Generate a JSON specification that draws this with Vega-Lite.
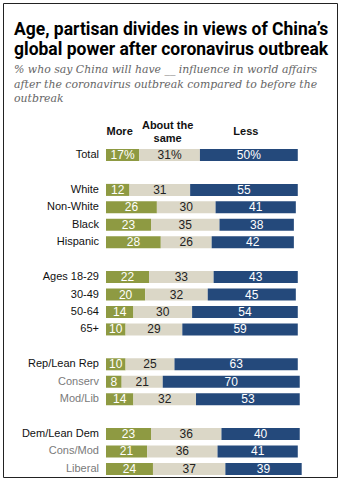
{
  "$schema": "https://vega.github.io/schema/vega-lite/v6.json",
  "width": 334,
  "height": 474,
  "autosize": {"type": "none"},
  "padding": {"left": 3, "top": 3, "right": 6, "bottom": 6},
  "background": "white",
  "config": {
    "view": {"stroke": "#222", "strokeWidth": 1},
    "text": {"font": "Liberation Sans"}
  },
  "title": {
    "text": ["Age, partisan divides in views of China’s", "global power after coronavirus outbreak"],
    "subtitle": ["% who say China will have __ influence in world affairs", "after the coronavirus outbreak compared to before the", "outbreak"],
    "anchor": "start",
    "frame": "group",
    "orient": "top",
    "offset": -101,
    "dx": 11,
    "font": "'Liberation Sans Narrow', Roboto, sans-serif",
    "fontSize": 17.5,
    "fontWeight": "bold",
    "lineHeight": 19.3,
    "color": "#000",
    "subtitleFont": "DejaVu Serif",
    "subtitleFontStyle": "italic",
    "subtitleFontSize": 10.9,
    "subtitleColor": "#666",
    "subtitleLineHeight": 14.5,
    "subtitlePadding": 6
  },
  "datasets": {
    "bars": [
      {"g": "Total", "c": "More", "v": 17, "t": "17%"},
      {"g": "Total", "c": "About the same", "v": 31, "t": "31%"},
      {"g": "Total", "c": "Less", "v": 50, "t": "50%"},
      {"g": "White", "c": "More", "v": 12, "t": "12"},
      {"g": "White", "c": "About the same", "v": 31, "t": "31"},
      {"g": "White", "c": "Less", "v": 55, "t": "55"},
      {"g": "Non-White", "c": "More", "v": 26, "t": "26"},
      {"g": "Non-White", "c": "About the same", "v": 30, "t": "30"},
      {"g": "Non-White", "c": "Less", "v": 41, "t": "41"},
      {"g": "Black", "c": "More", "v": 23, "t": "23"},
      {"g": "Black", "c": "About the same", "v": 35, "t": "35"},
      {"g": "Black", "c": "Less", "v": 38, "t": "38"},
      {"g": "Hispanic", "c": "More", "v": 28, "t": "28"},
      {"g": "Hispanic", "c": "About the same", "v": 26, "t": "26"},
      {"g": "Hispanic", "c": "Less", "v": 42, "t": "42"},
      {"g": "Ages 18-29", "c": "More", "v": 22, "t": "22"},
      {"g": "Ages 18-29", "c": "About the same", "v": 33, "t": "33"},
      {"g": "Ages 18-29", "c": "Less", "v": 43, "t": "43"},
      {"g": "30-49", "c": "More", "v": 20, "t": "20"},
      {"g": "30-49", "c": "About the same", "v": 32, "t": "32"},
      {"g": "30-49", "c": "Less", "v": 45, "t": "45"},
      {"g": "50-64", "c": "More", "v": 14, "t": "14"},
      {"g": "50-64", "c": "About the same", "v": 30, "t": "30"},
      {"g": "50-64", "c": "Less", "v": 54, "t": "54"},
      {"g": "65+", "c": "More", "v": 10, "t": "10"},
      {"g": "65+", "c": "About the same", "v": 29, "t": "29"},
      {"g": "65+", "c": "Less", "v": 59, "t": "59"},
      {"g": "Rep/Lean Rep", "c": "More", "v": 10, "t": "10"},
      {"g": "Rep/Lean Rep", "c": "About the same", "v": 25, "t": "25"},
      {"g": "Rep/Lean Rep", "c": "Less", "v": 63, "t": "63"},
      {"g": "Conserv", "c": "More", "v": 8, "t": "8"},
      {"g": "Conserv", "c": "About the same", "v": 21, "t": "21"},
      {"g": "Conserv", "c": "Less", "v": 70, "t": "70"},
      {"g": "Mod/Lib", "c": "More", "v": 14, "t": "14"},
      {"g": "Mod/Lib", "c": "About the same", "v": 32, "t": "32"},
      {"g": "Mod/Lib", "c": "Less", "v": 53, "t": "53"},
      {"g": "Dem/Lean Dem", "c": "More", "v": 23, "t": "23"},
      {"g": "Dem/Lean Dem", "c": "About the same", "v": 36, "t": "36"},
      {"g": "Dem/Lean Dem", "c": "Less", "v": 40, "t": "40"},
      {"g": "Cons/Mod", "c": "More", "v": 21, "t": "21"},
      {"g": "Cons/Mod", "c": "About the same", "v": 36, "t": "36"},
      {"g": "Cons/Mod", "c": "Less", "v": 41, "t": "41"},
      {"g": "Liberal", "c": "More", "v": 24, "t": "24"},
      {"g": "Liberal", "c": "About the same", "v": 37, "t": "37"},
      {"g": "Liberal", "c": "Less", "v": 39, "t": "39"}
    ],
    "rows": [
      {"g": "Total", "sub": false},
      {"g": "White", "sub": false},
      {"g": "Non-White", "sub": false},
      {"g": "Black", "sub": false},
      {"g": "Hispanic", "sub": false},
      {"g": "Ages 18-29", "sub": false},
      {"g": "30-49", "sub": false},
      {"g": "50-64", "sub": false},
      {"g": "65+", "sub": false},
      {"g": "Rep/Lean Rep", "sub": false},
      {"g": "Conserv", "sub": true},
      {"g": "Mod/Lib", "sub": true},
      {"g": "Dem/Lean Dem", "sub": false},
      {"g": "Cons/Mod", "sub": true},
      {"g": "Liberal", "sub": true}
    ]
  },
  "data": {"name": "bars"},
  "transform": [
    {"calculate": "indexof(['More','About the same','Less'], datum.c)", "as": "o"},
    {"stack": "v", "groupby": ["g"], "sort": [{"field": "o"}], "as": ["v0", "v1"]},
    {"calculate": "(datum.v0 + datum.v1) / 2", "as": "mid"}
  ],
  "layer": [
    {
      "mark": {"type": "bar"},
      "encoding": {
        "x": {"field": "v0", "type": "quantitative", "scale": {"domain": [-52.63, 118.04], "nice": false, "zero": false}, "axis": null},
        "x2": {"field": "v1"},
        "y": {"field": "g", "type": "nominal", "axis": null,
          "scale": {"domain": ["_1", "_2", "_3", "_4", "_5", "_6", "_7", "hdr", "Total", "_b1", "White", "Non-White", "Black", "Hispanic", "_b2", "Ages 18-29", "30-49", "50-64", "65+", "_b3", "Rep/Lean Rep", "Conserv", "Mod/Lib", "_b4", "Dem/Lean Dem", "Cons/Mod", "Liberal"],
            "paddingInner": 0.31, "paddingOuter": 0.245, "align": 0.76}},
        "color": {"field": "c", "type": "nominal", "legend": null,
          "scale": {"domain": ["More", "About the same", "Less"], "range": ["#8e9a42", "#dbd7c7", "#24497b"]}}
      }
    },
    {
      "mark": {"type": "text", "fontSize": 12, "baseline": "middle"},
      "encoding": {
        "x": {"field": "mid", "type": "quantitative"},
        "y": {"field": "g", "type": "nominal"},
        "text": {"field": "t"},
        "color": {"condition": {"test": "datum.c === 'About the same'", "value": "#222"}, "value": "white"}
      }
    },
    {
      "transform": [
        {"filter": "datum.g === 'Total' && datum.c !== 'About the same'"}
      ],
      "mark": {"type": "text", "fontSize": 11, "fontWeight": "bold", "dx": -3, "dy": -5.5, "baseline": "middle", "color": "#111"},
      "encoding": {
        "x": {"field": "mid", "type": "quantitative"},
        "y": {"datum": "hdr", "type": "nominal"},
        "text": {"field": "c"}
      }
    },
    {
      "transform": [
        {"filter": "datum.g === 'Total' && datum.c === 'About the same'"},
        {"calculate": "['About the', 'same']", "as": "h"}
      ],
      "mark": {"type": "text", "fontSize": 11, "fontWeight": "bold", "dx": -2, "dy": -12, "lineHeight": 13.5, "baseline": "middle", "color": "#111"},
      "encoding": {
        "x": {"field": "mid", "type": "quantitative"},
        "y": {"datum": "hdr", "type": "nominal"},
        "text": {"field": "h"}
      }
    },
    {
      "data": {"name": "rows"},
      "mark": {"type": "text", "align": "right", "fontSize": 11, "baseline": "middle"},
      "encoding": {
        "x": {"datum": -3.6, "type": "quantitative"},
        "y": {"field": "g", "type": "nominal"},
        "text": {"field": "g"},
        "color": {"condition": {"test": "datum.sub", "value": "#7a7a7a"}, "value": "#111"}
      }
    }
  ]
}
